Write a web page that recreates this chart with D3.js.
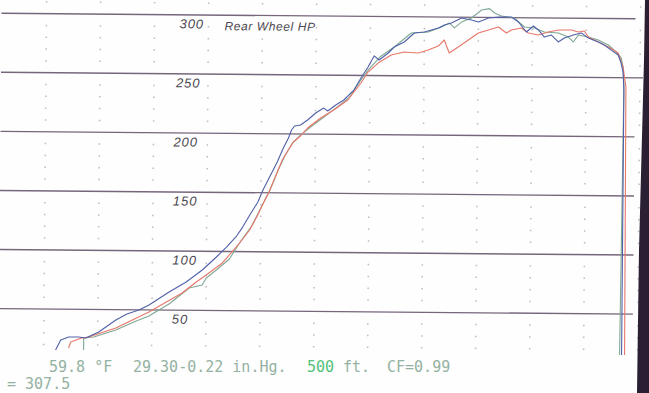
<!DOCTYPE html>
<html><head><meta charset="utf-8">
<script src="https://cdn.jsdelivr.net/npm/d3@7"></script>
<style>html,body{margin:0;padding:0;background:#fff;overflow:hidden}svg{display:block}</style>
</head><body>
<svg id="c" width="649" height="393"></svg>
<script>
// ---- data (engine rpm, rear wheel HP) ----
const runBlue = [[1570,15.4],[1620,23.9],[1700,26.5],[1800,26.6],[1870,25.8],[2000,31.0],[2170,41.2],[2280,46.4],[2400,49.8],[2500,54.2],[2700,65.3],[2870,73.9],[3030,84.2],[3170,95.3],[3270,103.8],[3370,113.2],[3430,120.8],[3500,131.1],[3580,142.2],[3630,152.3],[3700,164.3],[3770,176.1],[3830,188.0],[3880,196.5],[3910,203.3],[3940,206.7],[4000,207.6],[4070,211.9],[4150,217.9],[4230,222.1],[4270,219.7],[4350,224.8],[4430,229.1],[4530,237.6],[4600,247.8],[4670,257.2],[4730,266.6],[4780,263.2],[4870,269.2],[4930,274.3],[5030,278.6],[5130,286.3],[5230,287.2],[5370,290.7],[5430,293.3],[5500,295.0],[5600,299.3],[5700,297.7],[5770,296.1],[5870,299.6],[5970,300.4],[6100,300.6],[6170,296.4],[6250,288.0],[6320,293.1],[6370,289.8],[6430,283.8],[6500,285.6],[6570,279.8],[6630,283.2],[6720,285.8],[6800,287.6],[6870,283.3],[6970,280.0],[7030,277.6],[7100,273.3],[7170,269.2],[7200,262.4],[7220,254.8],[7230,239.6],[7230,15.3]];
const runRed = [[1700,17.2],[1720,22.3],[1830,25.7],[1900,26.7],[2170,34.4],[2500,48.2],[2830,64.6],[2970,74.0],[3070,80.0],[3230,90.3],[3300,97.1],[3400,107.3],[3500,118.4],[3580,131.2],[3630,140.5],[3690,150.7],[3760,165.1],[3820,177.9],[3880,186.3],[3930,193.2],[4000,198.3],[4070,205.1],[4200,213.7],[4330,220.5],[4470,229.1],[4600,243.6],[4670,252.9],[4770,260.6],[4900,267.5],[5030,270.1],[5170,269.4],[5270,272.0],[5370,275.4],[5430,280.6],[5480,269.6],[5570,274.8],[5670,280.8],[5770,286.8],[5870,289.4],[5970,292.0],[6050,287.0],[6100,289.6],[6200,291.3],[6270,287.1],[6370,285.5],[6470,288.1],[6570,289.9],[6700,290.0],[6770,288.3],[6830,289.2],[6870,284.2],[6970,280.0],[7070,275.9],[7170,270.9],[7220,259.0],[7250,242.1],[7260,15.4]];
const runGreen = [[1850,15.7],[1850,25.8],[1950,26.7],[2170,32.8],[2350,39.7],[2500,44.9],[2700,55.2],[2900,68.9],[3030,71.5],[3070,77.4],[3170,84.3],[3300,93.7],[3420,109.8],[3520,121.8],[3620,138.8],[3700,152.4],[3780,169.3],[3850,182.1],[3920,192.3],[4000,199.1],[4100,206.0],[4220,213.7],[4350,222.2],[4480,230.8],[4600,246.1],[4670,254.6],[4800,266.6],[4930,274.3],[5100,286.3],[5270,287.2],[5400,291.5],[5480,295.0],[5530,290.9],[5600,295.9],[5700,299.4],[5800,306.3],[5880,307.5],[5930,303.8],[6000,301.3],[6130,299.7],[6230,292.2],[6330,291.4],[6430,288.1],[6570,287.4],[6670,284.0],[6720,279.9],[6770,285.8],[6870,284.2],[6970,281.7],[7070,277.6],[7150,271.7],[7200,266.7],[7220,259.0],[7230,243.8],[7210,15.3]];

const hpTicks = [50,100,150,200,250,300];
const hpTickLabels = ["50","100","150","200","250","300"];
const axisTitle = "Rear Wheel HP";
const condTemp = "59.8 °F";
const condBaro = "29.30-0.22 in.Hg.";
const condAlt = "500";
const condAltUnit = "ft.";
const condCF = "CF=0.99";
const peakText = "= 307.5";

// ---- scales ----
const svg = d3.select("#c");
svg.append("rect").attr("width",649).attr("height",393).attr("fill","#fefefe");
const x = d3.scaleLinear().domain([1000, 7360]).range([0, 636]);
const y = d3.scaleLinear().domain([0, 300]).range([370.5, 16]);

const g = svg.append("g").attr("transform","rotate(0.5,320,190)");

// dotted minor grid
const minorHp = d3.range(20, 320, 10).filter(v => v % 50 !== 0);
const gridRpm = d3.range(1450, 7400, 540);
const dots = [];
gridRpm.forEach(r => minorHp.forEach(h => dots.push([r,h])));
g.append("g").selectAll("rect").data(dots).join("rect")
  .attr("x", d => x(d[0]) - 0.75).attr("y", d => y(d[1]) - 0.75)
  .attr("width",1.5).attr("height",1.5).attr("fill","#bdbac0");

// major lines
g.append("g").selectAll("line").data(hpTicks).join("line")
  .attr("x1", 0).attr("x2", d => d === 250 ? 642 : 634)
  .attr("y1", d => y(d)).attr("y2", d => y(d))
  .attr("stroke", "#76667c").attr("stroke-width", 1.4);

// handwritten labels
g.append("g").selectAll("text").data(hpTicks).join("text")
  .attr("x", d => d === 300 ? 178 : (d === 250 ? 175 : 173))
  .attr("y", d => y(d) + 13.5)
  .text((d,i) => hpTickLabels[i])
  .attr("font-family","Liberation Sans, Arial, sans-serif")
  .attr("font-style","italic").attr("font-size",13)
  .attr("letter-spacing",1).attr("fill","#4a474e");
g.append("text").attr("x",223).attr("y",y(300)+15)
  .text(axisTitle)
  .attr("font-family","Liberation Sans, Arial, sans-serif")
  .attr("font-style","italic").attr("font-size",12)
  .attr("letter-spacing",0.6).attr("fill","#4a474e");

// curves
const line = d3.line().x(d => x(d[0])).y(d => y(d[1]));
const runs = [[runGreen,"#7ea893"],[runRed,"#e8776a"],[runBlue,"#5060a8"]];
g.append("g").selectAll("path").data(runs).join("path")
  .attr("d", d => line(d[0])).attr("fill","none")
  .attr("stroke", d => d[1]).attr("stroke-width",1.1)
  .attr("stroke-linejoin","round");

// dark scan edge on right
svg.append("path")
  .attr("d","M645,0 L644,60 L639,250 L637,393 L649,393 L649,0 Z")
  .attr("fill","#2b2033");

// printed conditions
const mono = "DejaVu Sans Mono, monospace";
const t1 = svg.append("g").attr("font-family",mono).attr("font-size",15).attr("fill","#94b2a2");
t1.append("text").attr("x",49).attr("y",372).text(condTemp);
t1.append("text").attr("x",133).attr("y",372).text(condBaro);
t1.append("text").attr("x",307).attr("y",372).attr("fill","#52c27a").text(condAlt);
t1.append("text").attr("x",343).attr("y",372).text(condAltUnit);
t1.append("text").attr("x",387).attr("y",372).text(condCF);
t1.append("text").attr("x",7).attr("y",389).text(peakText);
</script>
</body></html>
